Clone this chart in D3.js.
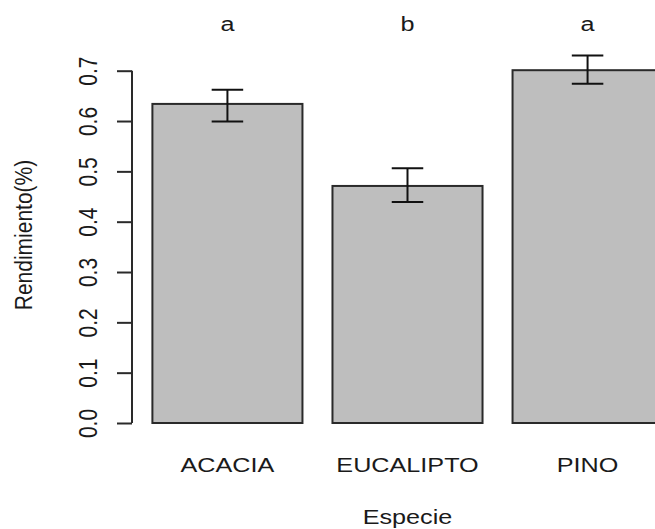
<!DOCTYPE html>
<html>
<head>
<meta charset="utf-8">
<script src="https://cdn.jsdelivr.net/npm/d3@7"></script>
<style>
  html, body { margin: 0; padding: 0; background: #fff; overflow: hidden; }
  text { font-family: "Liberation Sans", Arial, sans-serif; fill: #1a1a1a; }
</style>
</head>
<body>
<svg id="chart" width="655" height="529"></svg>
<script>
// ---- data ----
const categories = ["ACACIA", "EUCALIPTO", "PINO"];
const means = [0.634, 0.471, 0.701];
const lower = [0.599, 0.439, 0.674];
const upper = [0.662, 0.506, 0.730];
const groupLetters = ["a", "b", "a"];
const yTicks = [0.0, 0.1, 0.2, 0.3, 0.4, 0.5, 0.6, 0.7];
const yTitle = "Rendimiento(%)";
const xTitle = "Especie";

// ---- layout ----
const W = 655, H = 529;
const svg = d3.select("#chart");
const sx = 1.2;           // horizontal stretch of the original raster
const fs = 21;

const x = d3.scaleBand()
  .domain(categories)
  .range([132, 683])
  .paddingInner(1 / 6)
  .paddingOuter(0.1133);

const y = d3.scaleLinear().domain([0, 0.7]).range([423, 70.7]);

// bars
svg.append("g").selectAll("rect")
  .data(categories)
  .join("rect")
  .attr("x", d => x(d))
  .attr("y", (d, i) => y(means[i]))
  .attr("width", x.bandwidth())
  .attr("height", (d, i) => y(0) - y(means[i]))
  .attr("fill", "#bebebe")
  .attr("stroke", "#2a2a2a")
  .attr("stroke-width", 2);

// error bars
const cap = x.bandwidth() * 0.105;
const eb = svg.append("g").attr("stroke", "#111").attr("stroke-width", 2).attr("fill", "none");
categories.forEach((c, i) => {
  const cx = x(c) + x.bandwidth() / 2;
  eb.append("line").attr("x1", cx).attr("x2", cx).attr("y1", y(lower[i])).attr("y2", y(upper[i]));
  eb.append("line").attr("x1", cx - cap).attr("x2", cx + cap).attr("y1", y(upper[i])).attr("y2", y(upper[i]));
  eb.append("line").attr("x1", cx - cap).attr("x2", cx + cap).attr("y1", y(lower[i])).attr("y2", y(lower[i]));
});

// y axis
const yAxis = d3.axisLeft(y).tickValues(yTicks).tickSize(15).tickFormat(d3.format(".1f"));
const ag = svg.append("g").attr("transform", "translate(132,0)").call(yAxis);
ag.select(".domain").attr("stroke", "#2a2a2a").attr("stroke-width", 2)
  .attr("d", `M-15,${y(0)}H0V${y(0.7)}H-15`).attr("d", `M0,${y(0)}V${y(0.7)}`);
ag.selectAll(".tick line").attr("stroke", "#2a2a2a").attr("stroke-width", 2);
ag.selectAll(".tick text")
  .attr("x", null).attr("dy", null)
  .attr("transform", `translate(-35,0) scale(${sx},1) rotate(-90)`)
  .attr("text-anchor", "middle")
  .attr("font-size", fs)
  .attr("font-family", "Liberation Sans, Arial, sans-serif")
  .attr("fill", "#1a1a1a");

// x category labels
svg.append("g").selectAll("text")
  .data(categories)
  .join("text")
  .attr("transform", d => `translate(${x(d) + x.bandwidth() / 2},472) scale(${sx},1)`)
  .attr("text-anchor", "middle")
  .attr("font-size", fs)
  .text(d => d);

// significance letters
svg.append("g").selectAll("text")
  .data(groupLetters)
  .join("text")
  .attr("transform", (d, i) => `translate(${x(categories[i]) + x.bandwidth() / 2},${y(0.778)}) scale(${sx},1)`)
  .attr("text-anchor", "middle")
  .attr("font-size", fs)
  .text(d => d);

// axis titles
svg.append("text")
  .attr("transform", `translate(${(132 + 683) / 2},523.5) scale(${sx},1)`)
  .attr("text-anchor", "middle")
  .attr("font-size", fs)
  .text(xTitle);

svg.append("text")
  .attr("transform", `translate(32,235) scale(1.1,1) rotate(-90)`)
  .attr("text-anchor", "middle")
  .attr("font-size", fs)
  .text(yTitle);
</script>
</body>
</html>
